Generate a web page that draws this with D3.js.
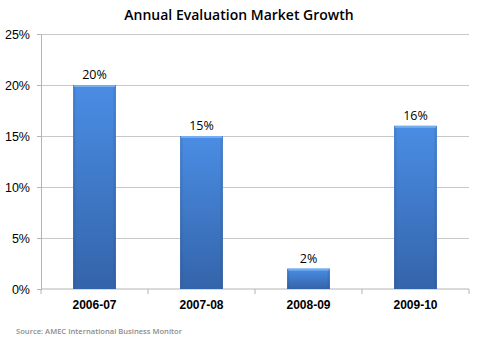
<!DOCTYPE html>
<html>
<head>
<meta charset="utf-8">
<script src="https://d3js.org/d3.v7.min.js"></script>
<style>
	body { margin: 0; background: #fff; }
	svg { display: block; font-family: 'Open Sans', 'Liberation Sans', sans-serif; }
	.grid line { stroke: #c8c8c8; }
	.axis path, .axis line { stroke: #b4b4b4; }
	.axis text { fill: #000; }
</style>
</head>
<body>
<svg></svg>
<script>
'use strict'

let title = 'Annual Evaluation Market Growth',
	source = 'Source: AMEC International Business Monitor',
	years = ['2006-07', '2007-08', '2008-09', '2009-10'],
	growth = [20, 15, 2, 16],
	y_ticks = [0, 5, 10, 15, 20, 25]

let W = 485, H = 341,
	margin = {top: 34, right: 16, bottom: 52, left: 41},
	width = W - margin.left - margin.right,
	height = H - margin.top - margin.bottom,
	x = d3.scaleBand().domain(years).range([0, width]).paddingInner(0.6).paddingOuter(0.3),
	y = d3.scaleLinear().domain([0, 25]).range([height, 0])

let svg = d3.select('svg').attr('width', W).attr('height', H)

// bar fill: vertical blue gradient, edges slightly darker
let defs = svg.append('defs')
defs.append('linearGradient').attr('id', 'bar_v')
	.attr('x1', 0).attr('y1', 0).attr('x2', 0).attr('y2', 1)
	.call(g => [['0%', '#4a8de4'], ['100%', '#3464aa']].forEach(([o, c]) =>
		g.append('stop').attr('offset', o).attr('stop-color', c)))
defs.append('linearGradient').attr('id', 'bar_h')
	.attr('x1', 0).attr('y1', 0).attr('x2', 1).attr('y2', 0)
	.call(g => [['0%', 0.25], ['8%', 0], ['92%', 0], ['100%', 0.25]].forEach(([o, a]) =>
		g.append('stop').attr('offset', o).attr('stop-color', '#1c3d6e').attr('stop-opacity', a)))

svg.append('text')
	.attr('x', 239).attr('y', 20).attr('text-anchor', 'middle')
	.attr('font-size', 14).attr('font-weight', 600).text(title)

let vis = svg.append('g').attr('transform', `translate(${margin.left} ${margin.top})`)

vis.append('g').attr('class', 'grid')
	.call(d3.axisLeft(y).tickValues(y_ticks.slice(1)).tickSize(-width).tickFormat(''))
	.call(s => s.select('.domain').remove())

vis.append('g').attr('class', 'y axis')
	.call(d3.axisLeft(y).tickValues(y_ticks).tickSize(4).tickPadding(7).tickFormat(d => d + '%'))
	.call(s => s.selectAll('text').attr('font-size', 12.5).attr('font-family', null))

vis.append('g').attr('class', 'x axis').attr('transform', `translate(0 ${height})`)
	.call(d3.axisBottom(x).tickSize(0).tickPadding(11))
	.call(s => s.selectAll('text').attr('font-size', 12).attr('font-weight', 600).attr('font-family', null))
	.call(s => s.select('.domain').attr('d', `M0,0H${width}`))
	.call(s => s.selectAll('.sep').data(d3.range(years.length + 1)).join('line')
		.attr('class', 'sep').attr('stroke', '#b4b4b4')
		.attr('x1', i => i * x.step()).attr('x2', i => i * x.step())
		.attr('y1', 0).attr('y2', 5))

let bars = vis.append('g').selectAll('g').data(d3.zip(years, growth)).join('g')
bars.append('rect')
	.attr('x', d => x(d[0])).attr('width', x.bandwidth())
	.attr('y', d => y(d[1])).attr('height', d => y(0) - y(d[1]))
	.attr('fill', 'url(#bar_v)')
bars.append('rect')
	.attr('x', d => x(d[0])).attr('width', x.bandwidth())
	.attr('y', d => y(d[1])).attr('height', d => y(0) - y(d[1]))
	.attr('fill', 'url(#bar_h)')
bars.append('rect')
	.attr('x', d => x(d[0]) + 1).attr('width', x.bandwidth() - 2)
	.attr('y', d => y(d[1])).attr('height', 2)
	.attr('fill', '#78aef0')
bars.append('text')
	.attr('x', d => x(d[0]) + x.bandwidth() / 2).attr('y', d => y(d[1]) - 6)
	.attr('text-anchor', 'middle').attr('font-size', 12.5)
	.text(d => d[1] + '%')

svg.append('text')
	.attr('x', 16).attr('y', 334).attr('font-size', 7.6).attr('font-weight', 600)
	.attr('fill', '#8c8c8c').text(source)
</script>
</body>
</html>
